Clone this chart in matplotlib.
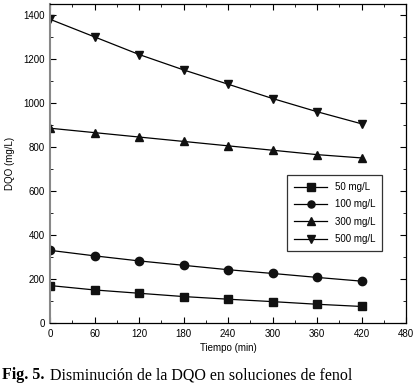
import numpy as np
import matplotlib
matplotlib.use("Agg")
import matplotlib.pyplot as plt
from matplotlib.ticker import MultipleLocator

tiempo = [0, 60, 120, 180, 240, 300, 360, 420]
dqo_50 = [170, 150, 135, 120, 108, 97, 85, 75]
dqo_100 = [330, 305, 282, 262, 242, 225, 207, 190]
dqo_300 = [885, 865, 845, 825, 805, 785, 765, 750]
dqo_500 = [1380, 1300, 1220, 1150, 1085, 1020, 960, 905]

series = [("50 mg/L", dqo_50, "s"), ("100 mg/L", dqo_100, "o"),
          ("300 mg/L", dqo_300, "^"), ("500 mg/L", dqo_500, "v")]

plt.rcParams['font.family'] = ['Liberation Sans', 'DejaVu Sans']

fig = plt.figure(figsize=(4.14, 3.91), dpi=100)
ax = fig.add_axes([0.121, 0.174, 0.860, 0.816])

for name, vals, mk in series:
    ax.plot(tiempo, vals, color="black", lw=0.9, marker=mk, ms=6,
            markerfacecolor="#111111", markeredgecolor="#111111", label=name)

ax.set_xlim(0, 480)
ax.set_ylim(0, 1450)
ax.xaxis.set_major_locator(MultipleLocator(60))
ax.xaxis.set_minor_locator(MultipleLocator(30))
ax.yaxis.set_major_locator(MultipleLocator(200))
ax.yaxis.set_minor_locator(MultipleLocator(100))
ax.tick_params(which="both", direction="in", top=True, right=True,
               labelsize=7, pad=4)
ax.tick_params(which="major", length=4)
ax.tick_params(which="minor", length=2)
for s in ax.spines.values():
    s.set_linewidth(0.9)
ax.spines["left"].set_color("#888888")
ax.spines["left"].set_linewidth(1.5)

ax.set_xlabel("Tiempo (min)", fontsize=7, labelpad=3)
ax.set_ylabel("DQO (mg/L)", fontsize=7, labelpad=6)

leg = ax.legend(loc="upper left", bbox_to_anchor=(0.653, 0.478), fontsize=7,
                frameon=True, fancybox=False, edgecolor="black",
                handlelength=3.4, borderpad=0.7, labelspacing=0.75,
                markerscale=0.85, borderaxespad=0.5)
leg.get_frame().set_linewidth(0.9)

fig.text(0.005, 0.03, "Fig. 5.", fontsize=11.5, fontweight="bold",
         family="Liberation Serif")
fig.text(0.12, 0.03, "Disminución de la DQO en soluciones de fenol",
         fontsize=11.5, family="Liberation Serif")

fig.savefig("out.png", dpi=100)
